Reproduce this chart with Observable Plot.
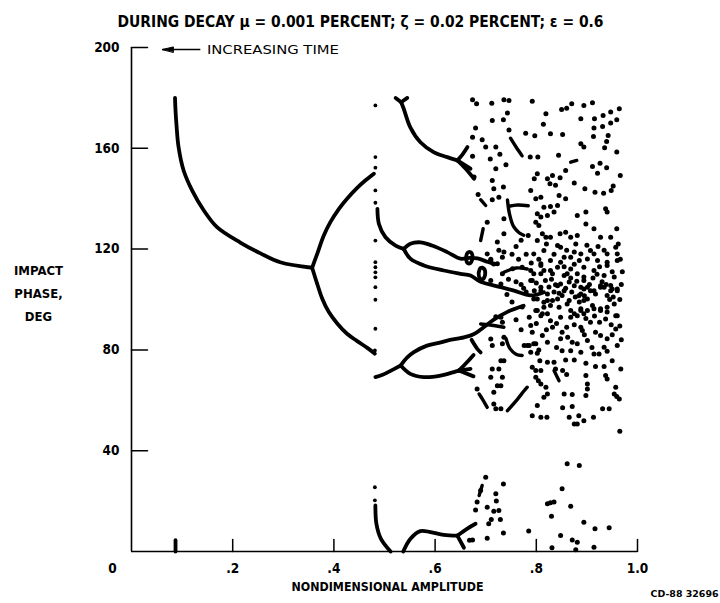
<!DOCTYPE html>
<html><head><meta charset="utf-8">
<script src="https://cdn.jsdelivr.net/npm/d3@7"></script>
<script src="https://cdn.jsdelivr.net/npm/@observablehq/plot@0.6"></script>
<style>
html,body{margin:0;padding:0;background:#fff;}
#chart{width:720px;height:603px;}
</style></head><body><div id="chart"></div>
<script>
// ---------- texts & ticks ----------
const titleText = "DURING DECAY μ = 0.001 PERCENT; ζ = 0.02 PERCENT; ε = 0.6";
const xLabel = "NONDIMENSIONAL AMPLITUDE";
const yLabel = "IMPACT\nPHASE,\nDEG";
const annotLabel = "INCREASING TIME";
const captionText = "CD-88 32696";
const xTicks = [0.2, 0.4, 0.6, 0.8, 1.0];
const xTickLabels = [".2", ".4", ".6", ".8", "1.0"];
const originTick = [0];
const originLabel = "0";
const yTicks = [40, 80, 120, 160, 200];
const yTickLabels = ["40", "80", "120", "160", "200"];
const arrowAnnot = [{xTail: 0.136, xTip: 0.061, xText: 0.149, y: 199.2}];

// ---------- curves [amplitude, phase] ----------
const leftCurve = [[0.086,180],[0.087,175],[0.089,169],[0.093,160.5],[0.103,151.2],[0.120,143.2],[0.143,135.3],[0.169,128.7],[0.215,122.6],[0.255,118.3],[0.294,114.8],[0.357,112.6]];
const leftUpper = [[0.357,112.6],[0.367,118.1],[0.380,125.4],[0.393,130.7],[0.410,136.0],[0.426,140.0],[0.446,144.3],[0.462,147.2],[0.479,149.9]];
const leftLower = [[0.357,112.6],[0.367,106.2],[0.377,100.3],[0.390,95.0],[0.407,90.4],[0.426,86.4],[0.446,83.5],[0.466,80.8],[0.481,78.5]];
const aTopLeft = [[0.522,180],[0.533,178.3]];
const aTopRight = [[0.545,180],[0.533,178.3]];
const aMain = [[0.533,178.3],[0.538,175.7],[0.551,168.3],[0.571,162.4],[0.597,158.5],[0.624,156.5],[0.644,155.2]];
const aUp = [[0.644,155.2],[0.654,157.5],[0.664,160.5]];
const aMid = [[0.644,155.2],[0.670,151.9]];
const aDown = [[0.644,155.2],[0.660,152],[0.677,147.9]];
const bMain = [[0.486,136.0],[0.489,130.0],[0.502,124.7],[0.522,121.4],[0.538,120.1]];
const bUpper = [[0.538,120.1],[0.551,122.1],[0.571,122.7],[0.594,121.4],[0.624,118.8],[0.650,116.2],[0.668,116.5],[0.684,116.3],[0.703,115.0],[0.716,114.1]];
const bLower = [[0.538,120.1],[0.551,116.2],[0.578,113.5],[0.617,111.5],[0.650,110.2],[0.670,109.5],[0.690,107.0],[0.730,104.9],[0.756,103.5],[0.789,101.6],[0.815,102.9]];
const bLoop1 = [[0.661,116.5],[0.664,118.5],[0.670,118.8],[0.674,117],[0.670,114.5],[0.664,114.5],[0.661,116.5]];
const bLoop2 = [[0.686,110.5],[0.690,112.5],[0.696,112.3],[0.699,110],[0.694,108],[0.688,108.5],[0.686,110.5]];
const cMain = [[0.482,69.2],[0.495,70.0],[0.510,71.5],[0.532,73.8]];
const cUpper = [[0.532,73.8],[0.545,77.0],[0.558,79.1],[0.584,81.7],[0.611,83.0],[0.624,83.7],[0.657,85.0],[0.676,86.2],[0.696,89.0],[0.716,92.0],[0.742,95.0],[0.775,97.5]];
const cLower = [[0.532,73.8],[0.551,70.5],[0.578,69.2],[0.611,69.8],[0.637,71.2],[0.647,71.8]];
const cBranchUp = [[0.647,71.8],[0.663,75.1],[0.676,78.0]];
const cBranchMid = [[0.647,71.8],[0.670,72.5]];
const cBranchDown = [[0.647,71.8],[0.676,69.5]];
const cFork = [[0.672,84],[0.683,80.5],[0.690,79.0]];
const bottomA = [[0.482,18.3],[0.484,11.0],[0.493,5.0],[0.512,0]];
const bottomB = [[0.537,0],[0.551,5.0],[0.571,8.1],[0.591,7.7],[0.617,6.6],[0.644,6.3]];
const bottomBUp = [[0.644,6.3],[0.663,9.0],[0.680,11.0]];
const bottomBDown = [[0.644,6.3],[0.657,1.5]];
const originMark = [[0.087,0],[0.087,4.5]];

// short streaks inside the chaotic band
const frag1 = [[0.749,164],[0.760,160.5],[0.772,157]];
const frag2 = [[0.743,139.5],[0.747,134],[0.755,129],[0.766,126.5],[0.775,125.5]];
const frag3 = [[0.746,137],[0.763,137.5],[0.784,137.2]];
const frag4 = [[0.690,139.6],[0.700,137.3]];
const frag5 = [[0.695,128.1],[0.690,123.4]];
const frag6 = [[0.736,110.8],[0.760,112.5],[0.782,112.1]];
const frag7 = [[0.690,90.3],[0.716,89.7],[0.736,89.0]];
const frag8 = [[0.740,84.5],[0.748,80.5],[0.760,78.3],[0.772,77.8]];
const frag9 = [[0.687,62.5],[0.695,60],[0.703,57.2]];
const frag10 = [[0.743,55.9],[0.763,60.5],[0.776,63.8],[0.782,65.2]];
const frag11 = [[0.835,71.8],[0.845,67.8]];
const frag12 = [[0.693,26.2],[0.687,22.2]];
const frag13 = [[0.868,154.5],[0.880,155.2]];

// ---------- scattered impacts ----------
const columnDots = [[0.482,177],[0.482,156.5],[0.482,152.3],[0.482,143.3],[0.482,138.4],[0.482,123.4],[0.482,114.8],[0.482,112.8],[0.482,110.8],[0.482,108.8],[0.482,104.9],[0.482,99.9],[0.482,88.4],[0.481,79.8],[0.481,25.5],[0.481,20.3]];
const chaosUpper = [[0.674,179.3],[0.682,177.7],[0.712,177.9],[0.736,179.3],[0.746,179.0],[0.792,178.7],[0.850,175.4],[0.860,175.9],[0.870,177.7],[0.894,177.0],[0.911,178.1],[0.964,175.7],
[0.819,173.7],[0.743,174.0],[0.713,171.0],[0.735,171.3],[0.888,171.7],[0.915,171.7],[0.932,173.0],[0.947,174.4],[0.959,171.3],
[0.680,168.1],[0.746,167.3],[0.779,166.0],[0.797,165.0],[0.814,169.5],[0.828,165.8],[0.852,165.5],[0.914,168.1],[0.931,168.7],[0.947,170.0],[0.913,164.7],[0.942,165.1],
[0.674,164.4],[0.693,163.4],[0.700,160.5],[0.720,160.5],[0.728,157.6],[0.709,155.8],[0.788,156.5],[0.803,156.5],[0.844,157.2],[0.939,162.7],[0.935,160.2],[0.959,158.5],[0.888,161.8],[0.894,160.5],[0.674,156.8],
[0.720,151.9],[0.740,153.5],[0.858,151.2],[0.911,152.8],[0.926,154.1],[0.939,152.3],[0.921,150.1],[0.966,149.2],[0.802,149.9],[0.796,147.9],[0.822,147.9],[0.832,149.2],[0.847,148.3],[0.713,147.2],[0.677,148.6],
[0.875,146.2],[0.827,145.9],[0.838,145.3],[0.896,143.9],[0.916,142.6],[0.933,142.2],[0.948,143.3],[0.952,145.0],[0.716,143.9],[0.735,144.6],[0.685,141.7],[0.789,143.3],[0.799,140.0],[0.809,140.6],[0.858,140.0],[0.845,141.3],
[0.713,139.6],[0.726,140.6],[0.815,136.6],[0.828,136.9],[0.842,137.3],[0.881,133.3],[0.898,134.7],[0.937,136.0],[0.940,134.7],[0.802,134.0],[0.809,132.7],[0.822,133.3],[0.835,134.7],[0.736,132.0],
[0.703,130.7],[0.723,122.8],[0.736,126.1],[0.799,130.7],[0.805,129.4],[0.812,126.1],[0.819,124.7],[0.847,126.1],[0.858,126.7],[0.868,124.7],[0.881,125.4],[0.898,130.0],[0.914,128.1],[0.927,124.7],[0.947,124.7],[0.959,128.1],[0.828,124.7],[0.802,123.4],[0.784,125.4]];
const chaosMiddle = [[0.736,118.8],[0.703,118.1],[0.710,116],[0.716,114.1],[0.795,118.1],[0.815,119.4],[0.828,115.5],[0.848,120.7],[0.855,116.8],[0.875,118.8],[0.888,118.1],[0.907,119.4],[0.921,115.5],[0.940,118.1],[0.957,120.7],[0.960,118.1],[0.842,112.8],[0.868,112.1],[0.894,112.8],[0.914,111.5],[0.940,113.5],[0.809,113.5],[0.795,110.2],[0.789,107.5],[0.832,110.2],[0.855,109.5],[0.842,105.5],[0.865,106.9],[0.880,107.2],[0.894,107.5],[0.888,104.9],[0.907,103.5],[0.927,105.5],[0.950,104.2],[0.960,103.5],[0.809,103.5],[0.822,102.2],[0.851,101.6],[0.865,99.6],[0.888,102.2],[0.901,100.2],[0.917,102.2],[0.940,101.6],[0.795,100.2],[0.815,98.9],[0.832,99.6],[0.845,96.9],[0.888,96.3],[0.901,95.6],[0.914,96.3],[0.927,95.6],[0.940,95.0],[0.957,93.6],[0.868,95.6],[0.875,94.3],[0.799,95.6],[0.812,94.3],[0.828,91.6],[0.848,93.0],[0.868,93.0],[0.881,93.6],[0.907,91.0],[0.937,92.3],[0.957,88.3],[0.789,89.7],[0.792,87.0],[0.812,85.7],[0.832,89.0],[0.851,87.0],[0.848,84.4],[0.888,89.0],[0.891,87.7],[0.917,87.0],[0.927,85.7],[0.940,84.4],[0.871,83.0],[0.881,82.4],[0.901,83.7],[0.934,81.1],[0.960,81.7],[0.782,81.7],[0.795,82.4],[0.851,79.7],[0.868,79.7],[0.888,79.1],[0.914,78.4],[0.924,78.4],
[0.726,119.5],[0.733,116.8],[0.710,115.5],[0.723,114.2],[0.733,110.2],[0.710,107.5],
[0.730,106.2],[0.796,103.5],[0.809,104.9],[0.838,105.9],[0.855,103.5],[0.875,105.5],[0.894,104.2],[0.914,103.5],[0.934,104.9],[0.947,103.5],[0.960,104.2],[0.802,100.2],[0.822,99.6],[0.842,100.2],[0.861,98.2],[0.884,101.5],[0.894,99.6],[0.911,97.6],[0.927,96.3],[0.940,96.9],[0.954,98.2],[0.828,97.6],[0.815,96.9],[0.888,95.6],[0.894,94.3],[0.802,95.6],[0.809,93.6],[0.822,94.3],[0.960,93.6],
[0.730,93.0],[0.733,91.0],[0.720,93.2],
[0.842,121.4],[0.914,118.1],[0.934,119.5],[0.901,116.1],[0.940,114.8],[0.960,115.5],[0.868,116.8],[0.848,114.8],[0.809,114.2],[0.753,112.2],[0.772,112.8],[0.789,111.5],[0.809,110.2],[0.828,111.5],[0.861,110.2],[0.881,110.2],[0.894,108.9],[0.934,109.5],[0.954,108.9],[0.792,107.5],[0.848,106.2],[0.901,104.9],[0.927,104.9],[0.947,105.6]];
const chaosDense = [[0.770,106],[0.775,104.5],[0.780,103],[0.800,106.5],[0.818,107.5],[0.825,105],[0.835,103],[0.845,102.5],[0.858,104.5],[0.870,103],[0.877,101],[0.885,99],[0.895,101.5],[0.905,106],[0.912,108.5],[0.920,110],[0.930,107],[0.938,106],[0.945,100],[0.952,101],[0.965,100],[0.968,106],[0.970,111],[0.966,116],[0.962,122],[0.922,121],[0.900,121.5],[0.878,122],[0.860,119.5],[0.835,118],[0.820,122],[0.805,116],[0.790,114.5],[0.780,118],[0.765,116],[0.760,121],[0.770,123.5],[0.752,118],[0.745,108],[0.760,107],[0.772,97],[0.786,93],[0.800,90.5],[0.820,88],[0.840,90.5],[0.860,89],[0.875,90],[0.898,92.5],[0.915,93.5],[0.925,91],[0.948,90],[0.965,89.5],[0.968,84],[0.950,86],[0.910,81],[0.895,86],[0.862,85],[0.840,81],[0.822,83],[0.805,80],[0.770,88],[0.760,92],[0.752,99],[0.742,102],[0.855,113],[0.875,114],[0.885,115.5],[0.925,113],[0.950,111],[0.830,108],[0.815,111.5],[0.868,108.5]];
const chaosLower = [[0.710,84.3],[0.713,81.7],[0.736,85.0],[0.733,82.4],[0.776,81.7],[0.786,81.7],[0.799,82.4],[0.789,79.1],[0.802,78.7],[0.940,79.5],
[0.858,76.0],[0.875,76.0],[0.898,74.7],[0.917,73.4],[0.934,73.4],[0.950,75.7],[0.807,75.7],[0.822,75.1],[0.835,75.1],[0.792,73.1],[0.799,71.8],[0.809,71.8],[0.838,72.4],[0.852,71.8],[0.860,70.2],[0.713,72.4],[0.726,72.4],[0.730,75.7],[0.736,75.7],[0.799,69.1],[0.804,67.8],[0.809,66.5],[0.898,69.8],[0.937,69.8],[0.940,68.5],[0.967,72.4],[0.710,69.1],[0.733,69.1],[0.901,66.5],[0.901,64.5],[0.957,65.2],[0.819,65.2],[0.723,65.8],[0.730,65.8],[0.716,63.2],[0.683,64.5],[0.822,62.5],[0.815,61.2],[0.855,62.5],[0.871,62.3],[0.898,61.9],[0.954,62.5],[0.959,61.5],[0.964,60.5],[0.716,58.5],[0.720,56.6],[0.730,56.6],[0.802,57.9],[0.852,57.0],[0.871,57.5],[0.931,56.6],[0.944,56.6],[0.792,53.9],[0.809,53.3],[0.821,53.3],[0.865,53.3],[0.884,53.9],[0.894,51.9],[0.875,50.6],[0.881,50.6],[0.913,53.3],[0.965,47.7]];
const chaosBottom = [[0.700,29.5],[0.690,24.2],[0.735,26.8],[0.720,22.9],[0.721,20.0],[0.683,19.6],[0.703,17.6],[0.680,16.5],[0.716,16.0],[0.726,16.3],[0.711,12.7],[0.729,12.7],[0.706,11.0],[0.735,7.3],[0.703,5.3],[0.785,8.1],[0.851,24.9],[0.861,34.8],[0.885,34.1],[0.822,18.9],[0.828,19.3],[0.835,19.6],[0.868,18.0],[0.830,14.0],[0.894,11.6],[0.916,9.0],[0.944,9.4],[0.848,6.3],[0.871,4.6],[0.881,3.7],[0.831,1.5],[0.878,0.7],[0.914,1.7],[0.668,4.5],[0.674,4.6]];

// ---------- build tables ----------
const mainCurves = [leftCurve, leftUpper, leftLower, aTopLeft, aTopRight, aMain, aUp, aMid, aDown,
  bMain, bUpper, bLower, bLoop1, bLoop2, cMain, cUpper, cLower, cBranchUp, cBranchMid, cBranchDown, cFork,
  bottomA, bottomB, bottomBUp, bottomBDown, originMark];
const fragments = [frag1, frag2, frag3, frag4, frag5, frag6, frag7, frag8, frag9, frag10, frag11, frag12, frag13];
const toRows = segs => segs.flatMap((s, i) => s.map(([v, d]) => ({v, d, seg: i})));
const curveRows = toRows(mainCurves);
const fragRows = toRows(fragments);
const chaosRows = [...chaosUpper, ...chaosMiddle, ...chaosDense, ...chaosLower, ...chaosBottom].map(([v, d]) => ({v, d}));
const columnRows = columnDots.map(([v, d]) => ({v, d}));

const FONT = '"DejaVu Sans Condensed","Liberation Sans Narrow",sans-serif';
const tickShape = {draw(ctx, l) { ctx.moveTo(0, 0); ctx.lineTo(0, -l); }};
const headShape = {draw(ctx, l) { ctx.moveTo(0, 0); ctx.lineTo(-2.6, -l); ctx.lineTo(2.6, -l); ctx.closePath(); }};

const svg = Plot.plot({
  width: 720, height: 603,
  marginLeft: 131, marginRight: 83, marginTop: 47, marginBottom: 52,
  x: {domain: [0, 1]},
  y: {domain: [0, 200]},
  style: {fontFamily: FONT, fontSize: "13px", color: "#000", background: "#fff", overflow: "visible"},
  marks: [
    Plot.ruleX(originTick, {stroke: "#000", strokeWidth: 1.6}),
    Plot.ruleY(originTick, {stroke: "#000", strokeWidth: 1.6}),
    Plot.vector(yTicks, {y: d => d, frameAnchor: "left", rotate: 90, length: 16, anchor: "start", shape: tickShape, stroke: "#000", strokeWidth: 1.5}),
    Plot.vector(xTicks, {x: d => d, frameAnchor: "bottom", rotate: 0, length: 12, anchor: "start", shape: tickShape, stroke: "#000", strokeWidth: 1.5}),
    Plot.axisY(yTicks, {tickSize: 0, tickPadding: 12, fontSize: 13.5, fontWeight: "bold", tickFormat: d => yTickLabels[yTicks.indexOf(d)]}),
    Plot.axisX(xTicks, {tickSize: 0, tickPadding: 12, fontSize: 13.5, fontWeight: "bold", tickFormat: d => xTickLabels[xTicks.indexOf(d)], label: null}),
    Plot.axisX(originTick, {tickSize: 0, tickPadding: 12, dx: -19, fontSize: 13.5, fontWeight: "bold", tickFormat: () => originLabel, label: null}),
    Plot.line(curveRows, {x: "v", y: "d", z: "seg", stroke: "#000", strokeWidth: 3.8, curve: "catmull-rom", strokeLinecap: "round", strokeLinejoin: "round"}),
    Plot.line(fragRows, {x: "v", y: "d", z: "seg", stroke: "#000", strokeWidth: 3.4, curve: "catmull-rom", strokeLinecap: "round"}),
    Plot.dot(chaosRows, {x: "v", y: "d", r: 2.5, fill: "#000", stroke: null}),
    Plot.dot(columnRows, {x: "v", y: "d", r: 1.9, fill: "#000", stroke: null}),
    Plot.link(arrowAnnot, {x1: "xTail", x2: "xTip", y1: "y", y2: "y", stroke: "#000", strokeWidth: 1.5}),
    Plot.vector(arrowAnnot, {x: "xTip", y: "y", rotate: 90, length: 11, anchor: "start", shape: headShape, fill: "#000", stroke: "#000", strokeWidth: 1}),
    Plot.text(arrowAnnot, {x: "xText", y: "y", text: () => annotLabel, textAnchor: "start", fontSize: 12.5}),
    Plot.text([titleText], {frameAnchor: "top", dy: -32, dx: -24, fontSize: 16.5, fontWeight: "bold"}),
    Plot.text([xLabel], {frameAnchor: "bottom", dy: 39, dx: 3, fontSize: 12.5, fontWeight: "bold"}),
    Plot.text([yLabel], {frameAnchor: "left", dx: -93, dy: -9, fontSize: 13, fontWeight: "bold", lineHeight: 1.8, textAnchor: "middle"}),
    Plot.text([captionText], {frameAnchor: "bottom-right", dx: 81, dy: 45, textAnchor: "end", fontSize: 9, fontWeight: "bold"})
  ]
});

const textWidths = new Map([[titleText, 486], [annotLabel, 132], [xLabel, 192], [captionText, 68]]);
d3.select(svg).selectAll("text").each(function () {
  const w = textWidths.get(this.textContent);
  if (w) { this.setAttribute("textLength", w); this.setAttribute("lengthAdjust", "spacingAndGlyphs"); }
});
document.getElementById("chart").appendChild(svg);
</script>
</body></html>
